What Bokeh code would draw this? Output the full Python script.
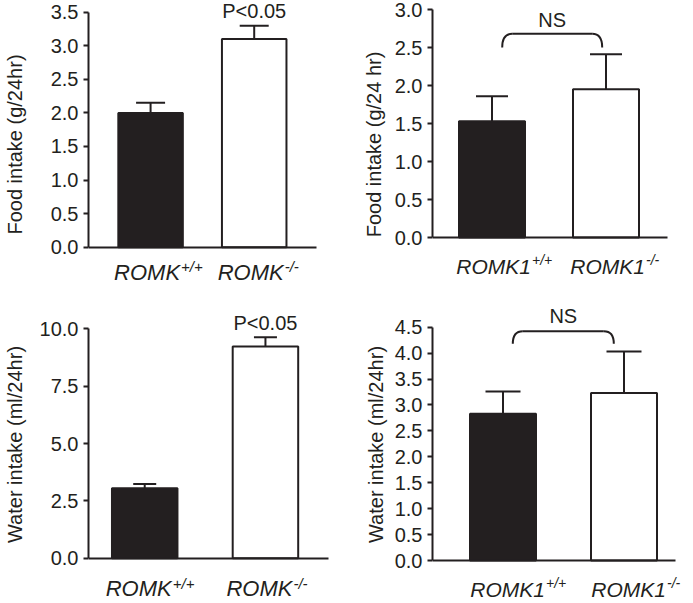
from bokeh.plotting import figure
from bokeh.models import (Range1d, FixedTicker, NumeralTickFormatter, Label,
                          Whisker, TeeHead, ColumnDataSource)
from bokeh.layouts import column, row
from bokeh.embed import file_html
from bokeh.resources import INLINE

# ---------------- data ----------------
genotype_sup = ["+/+", "-/-"]

food_romk_gene = "ROMK"
food_romk_mean = [2.00, 3.10]
food_romk_sem = [0.15, 0.20]
food_romk_ticks = [0.0, 0.5, 1.0, 1.5, 2.0, 2.5, 3.0, 3.5]
food_romk_ylabel = "Food intake (g/24hr)"
food_romk_note = "P<0.05"

food_romk1_gene = "ROMK1"
food_romk1_mean = [1.53, 1.95]
food_romk1_sem = [0.33, 0.46]
food_romk1_ticks = [0.0, 0.5, 1.0, 1.5, 2.0, 2.5, 3.0]
food_romk1_ylabel = "Food intake (g/24 hr)"
food_romk1_note = "NS"
food_romk1_bracket = [2.50, 2.68]

water_romk_gene = "ROMK"
water_romk_mean = [3.05, 9.23]
water_romk_sem = [0.18, 0.40]
water_romk_ticks = [0.0, 2.5, 5.0, 7.5, 10.0]
water_romk_ylabel = "Water intake (ml/24hr)"
water_romk_note = "P<0.05"

water_romk1_gene = "ROMK1"
water_romk1_mean = [2.83, 3.23]
water_romk1_sem = [0.43, 0.80]
water_romk1_ticks = [0.0, 0.5, 1.0, 1.5, 2.0, 2.5, 3.0, 3.5, 4.0, 4.5]
water_romk1_ylabel = "Water intake (ml/24hr)"
water_romk1_note = "NS"
water_romk1_bracket = [4.18, 4.42]

# ---------------- style ----------------
INK = "#231f20"
FONT = "Liberation Sans"
BAR_FILLS = [INK, "white"]
MB = 2  # bottom border (x axis panel)


def panel(gene, mean, sem, ticks, ylabel, note, bracket, L):
    xs = list(range(len(mean)))
    w, h, ml = L["w"], L["h"], L["ml"]
    W, H = w - ml, h - MB
    # pixel layout -> data ranges
    unit = L["c1"] - L["c0"]
    x0 = -(L["c0"] - ml) / unit
    x1 = x0 + W / unit
    v = (L["b"] - L["t"]) / (ticks[-1] - ticks[0])
    y1 = ticks[0] + L["b"] / v
    y0 = y1 - H / v
    x_end = (L["xend"] - L["c0"]) / unit

    p = figure(width=w, height=h,
               x_range=Range1d(x0, x1), y_range=Range1d(y0, y1),
               output_backend="svg", toolbar_location=None,
               min_border_left=ml, min_border_right=0,
               min_border_top=0, min_border_bottom=MB)
    p.outline_line_color = None
    p.background_fill_color = "white"
    p.border_fill_color = "white"
    p.xgrid.visible = False
    p.ygrid.visible = False

    # y axis
    ya = p.yaxis[0]
    ya.ticker = FixedTicker(ticks=ticks)
    ya.bounds = (ticks[0], ticks[-1])
    ya.formatter = NumeralTickFormatter(format="0.0")
    ya.axis_line_width = 2
    ya.axis_line_color = INK
    ya.major_tick_line_width = 2
    ya.major_tick_line_color = INK
    ya.major_tick_in = 0
    ya.major_tick_out = 5
    ya.minor_tick_line_color = None
    ya.minor_tick_in = 0
    ya.minor_tick_out = 0
    ya.major_label_standoff = 5
    ya.major_label_text_font = FONT
    ya.major_label_text_font_size = "20px"
    ya.major_label_text_color = INK
    ya.axis_label = ylabel
    ya.axis_label_text_font = FONT
    ya.axis_label_text_font_size = "20px"
    ya.axis_label_text_font_style = "normal"
    ya.axis_label_text_color = INK
    ya.axis_label_standoff = L["als"]

    # x axis: line only, placed at y = 0 inside the frame
    xa = p.xaxis[0]
    xa.fixed_location = ticks[0]
    xa.bounds = (x0, x_end)
    xa.ticker = FixedTicker(ticks=[])
    xa.axis_line_width = 2
    xa.axis_line_color = INK
    xa.major_tick_line_color = None
    xa.minor_tick_line_color = None
    xa.major_tick_in = 0
    xa.major_tick_out = 0
    xa.minor_tick_in = 0
    xa.minor_tick_out = 0
    xa.major_label_standoff = 0
    xa.major_label_text_font_size = "0px"

    src = ColumnDataSource(dict(
        x=xs, mean=mean,
        upper=[m + s for m, s in zip(mean, sem)],
        fill=BAR_FILLS[:len(mean)]))

    p.vbar(x="x", top="mean", bottom=0, width=L["bw"] / unit, source=src,
           fill_color="fill", line_color=INK, line_width=2)

    p.add_layout(Whisker(source=src, base="x", lower="mean", upper="upper",
                         dimension="height", line_color=INK, line_width=2,
                         lower_head=None,
                         upper_head=TeeHead(size=L["cap"], line_color=INK,
                                            line_width=2)))

    # genotype labels under the bars
    for x, sup in zip(xs, genotype_sup):
        p.add_layout(Label(x=x, y=0, text=gene, text_font=FONT,
                           text_font_style="italic",
                           text_font_size=f"{L['gfs']}px", text_color=INK,
                           text_align="right", text_baseline="alphabetic",
                           x_offset=L["ldx"], y_offset=-L["ldy"]))
        p.add_layout(Label(x=x, y=0, text=sup, text_font=FONT,
                           text_font_style="italic",
                           text_font_size=f"{L['sfs']}px", text_color=INK,
                           text_align="left", text_baseline="alphabetic",
                           x_offset=L["ldx"] + 1,
                           y_offset=-(L["ldy"] - L["sdy"])))

    if bracket is None:
        p.add_layout(Label(x=xs[-1], y=src.data["upper"][-1], text=note,
                           text_font=FONT, text_font_size="20px",
                           text_color=INK, text_align="center",
                           text_baseline="alphabetic", y_offset=L["ndy"]))
    else:
        lo, hi = bracket
        xl, xr = [(px - L["c0"]) / unit for px in L["bx"]]
        d = L["bd"] / unit
        p.quadratic(x0=[xl, xr], y0=[lo, lo], cx=[xl, xr], cy=[hi, hi],
                    x1=[xl + d, xr - d], y1=[hi, hi],
                    line_color=INK, line_width=2)
        p.segment(x0=[xl + d], y0=[hi], x1=[xr - d], y1=[hi],
                  line_color=INK, line_width=2)
        p.add_layout(Label(x=(xl + xr) / 2, y=hi, text=note,
                           text_font=FONT, text_font_size="20px",
                           text_color=INK, text_align="center",
                           text_baseline="alphabetic", y_offset=L["ndy"]))
    return p


# pixel layout of each panel (inside its own figure)
L_TL = dict(w=350, h=290, ml=82, c0=145.5, c1=251.5, xend=315, t=11.7,
            b=246.7, bw=66, cap=29, ldx=29.5, ldy=25.5, sdy=6, gfs=22,
            sfs=15, als=22, ndy=14.5)
L_TR = dict(w=340, h=290, ml=82, c0=141.5, c1=255.5, xend=317, t=9, b=237,
            bw=66, cap=32, ldx=39, ldy=28.5, sdy=6, gfs=21, sfs=14,
            als=7, ndy=13.5, bx=(151.7, 251.7), bd=10)
L_BL = dict(w=350, h=310, ml=82, c0=139.5, c1=263, xend=328, t=38.3,
            b=267.7, bw=67, cap=23, ldx=27, ldy=30.5, sdy=5, gfs=22, sfs=15,
            als=11, ndy=14.5)
L_BR = dict(w=340, h=310, ml=82, c0=152.5, c1=273.5, xend=325, t=36.7,
            b=270, bw=66, cap=35, ldx=42, ldy=28.5, sdy=6, gfs=21, sfs=14,
            als=5, ndy=15.5, bx=(162.3, 263.3), bd=10)

p1 = panel(food_romk_gene, food_romk_mean, food_romk_sem, food_romk_ticks,
           food_romk_ylabel, food_romk_note, None, L_TL)
p2 = panel(food_romk1_gene, food_romk1_mean, food_romk1_sem, food_romk1_ticks,
           food_romk1_ylabel, food_romk1_note, food_romk1_bracket, L_TR)
p3 = panel(water_romk_gene, water_romk_mean, water_romk_sem, water_romk_ticks,
           water_romk_ylabel, water_romk_note, None, L_BL)
p4 = panel(water_romk1_gene, water_romk1_mean, water_romk1_sem,
           water_romk1_ticks, water_romk1_ylabel, water_romk1_note,
           water_romk1_bracket, L_BR)

layout = column(row(p1, p2), row(p3, p4))
open("out.html", "w").write(file_html(layout, INLINE))
